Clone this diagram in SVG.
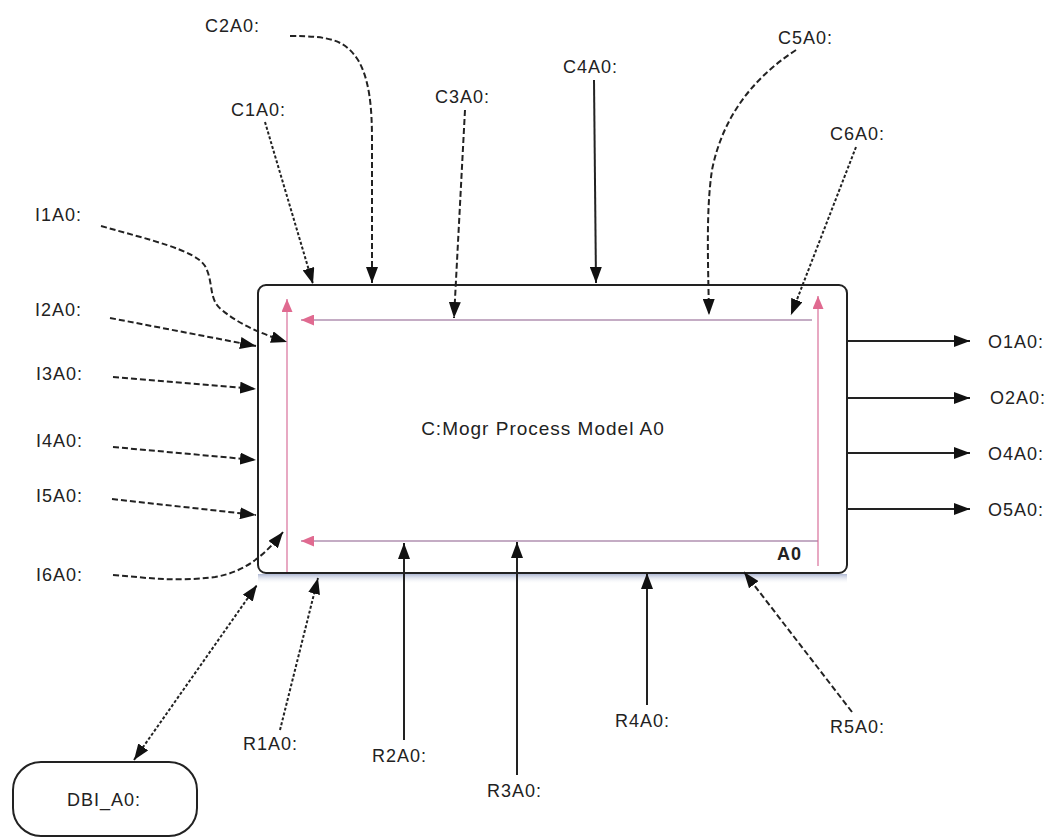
<svg xmlns="http://www.w3.org/2000/svg" width="1055" height="838" viewBox="0 0 1055 838">
<defs>
<marker id="ah" viewBox="0 0 16 12" refX="16" refY="6" markerWidth="16" markerHeight="12" markerUnits="userSpaceOnUse" orient="auto-start-reverse"><path d="M0,0 L16,6 L0,12 Z" fill="#111"/></marker>
<marker id="ap" viewBox="0 0 13 11" refX="13" refY="5.5" markerWidth="13" markerHeight="11" markerUnits="userSpaceOnUse" orient="auto"><path d="M0,0 L13,5.5 L0,11 Z" fill="#e06a90"/></marker>
<linearGradient id="sh" x1="0" y1="0" x2="0" y2="1"><stop offset="0" stop-color="#9aa6c8" stop-opacity="0.8"/><stop offset="1" stop-color="#ffffff" stop-opacity="0"/></linearGradient>
</defs>
<style>
text{font-family:"Liberation Sans",Arial,sans-serif;font-size:18px;fill:#222;letter-spacing:1px}
.c{fill:none;stroke:#222;stroke-width:2;marker-end:url(#ah)}
.dash{stroke-dasharray:6 3}
.dot{stroke-dasharray:3 2}
.inner{fill:none;stroke:#8a5a8a;stroke-width:1.2}
.pk{stroke:#d8709a}
</style>
<rect width="1055" height="838" fill="#fff"/>

<g id="A0">
<rect x="258" y="574" width="589" height="10" fill="url(#sh)"/>
<rect x="258" y="285" width="589" height="288" rx="8" fill="#fff" stroke="#222" stroke-width="2"/>
<line class="inner" x1="812" y1="320" x2="301" y2="320" marker-end="url(#ap)"/>
<line class="inner" x1="818" y1="541" x2="301" y2="541" marker-end="url(#ap)"/>
<line class="inner pk" x1="287" y1="572" x2="287" y2="299" marker-end="url(#ap)"/>
<line class="inner pk" x1="818" y1="566" x2="818" y2="296" marker-end="url(#ap)"/>
<text x="543" y="435" text-anchor="middle" style="font-size:19px">C:Mogr Process Model A0</text>
<text x="777" y="560" style="font-weight:bold;font-size:18px">A0</text>
</g>

<g id="DBI">
<rect x="13" y="762" width="184" height="74" rx="28" fill="#fff" stroke="#222" stroke-width="2"/>
<text x="104" y="806" text-anchor="middle">DBI_A0:</text>
</g>

<g id="labels">
<text x="205" y="32">C2A0:</text>
<text x="231" y="116">C1A0:</text>
<text x="435" y="103">C3A0:</text>
<text x="563" y="73">C4A0:</text>
<text x="778" y="44">C5A0:</text>
<text x="830" y="140">C6A0:</text>
<text x="35" y="221">I1A0:</text>
<text x="35" y="316">I2A0:</text>
<text x="36" y="380">I3A0:</text>
<text x="36" y="447">I4A0:</text>
<text x="36" y="502">I5A0:</text>
<text x="36" y="581">I6A0:</text>
<text x="988" y="348">O1A0:</text>
<text x="990" y="404">O2A0:</text>
<text x="988" y="460">O4A0:</text>
<text x="988" y="516">O5A0:</text>
<text x="243" y="750">R1A0:</text>
<text x="372" y="762">R2A0:</text>
<text x="487" y="797">R3A0:</text>
<text x="615" y="727">R4A0:</text>
<text x="830" y="733">R5A0:</text>
</g>

<g id="connectors">
<path class="c dot" d="M265,122 L313,284"/>
<path class="c dash" d="M290,36 C330,36 345,40 358,60 C370,80 372,110 372,140 L372,283"/>
<path class="c dash" d="M465,110 L454,318"/>
<path class="c" d="M594,80 L596,283"/>
<path class="c dash" d="M796,50 C750,80 722,120 712,170 C706,210 708,260 709,315"/>
<path class="c dot" d="M856,147 L791,315"/>
<path class="c dash" d="M101,226 C150,240 195,250 205,266 C214,282 208,300 222,310 C240,325 262,334 287,342"/>
<path class="c dash" d="M110,318 L256,346"/>
<path class="c dash" d="M113,377 L256,389"/>
<path class="c dash" d="M113,447 L256,460"/>
<path class="c dash" d="M112,499 L256,515"/>
<path class="c dash" d="M113,575 C150,578 175,582 215,577 C245,572 265,555 283,532"/>
<path class="c" d="M847,341 L970,341"/>
<path class="c" d="M847,398 L970,398"/>
<path class="c" d="M847,453 L970,453"/>
<path class="c" d="M847,509 L970,509"/>
<path class="c dot" d="M134,760 L257,585" marker-start="url(#ah)"/>
<path class="c dot" d="M280,730 L318,578"/>
<path class="c" d="M404,740 L404,543"/>
<path class="c" d="M517,775 L517,542"/>
<path class="c" d="M647,705 L647,573"/>
<path class="c dash" d="M852,712 L744,572"/>
</g>
</svg>
